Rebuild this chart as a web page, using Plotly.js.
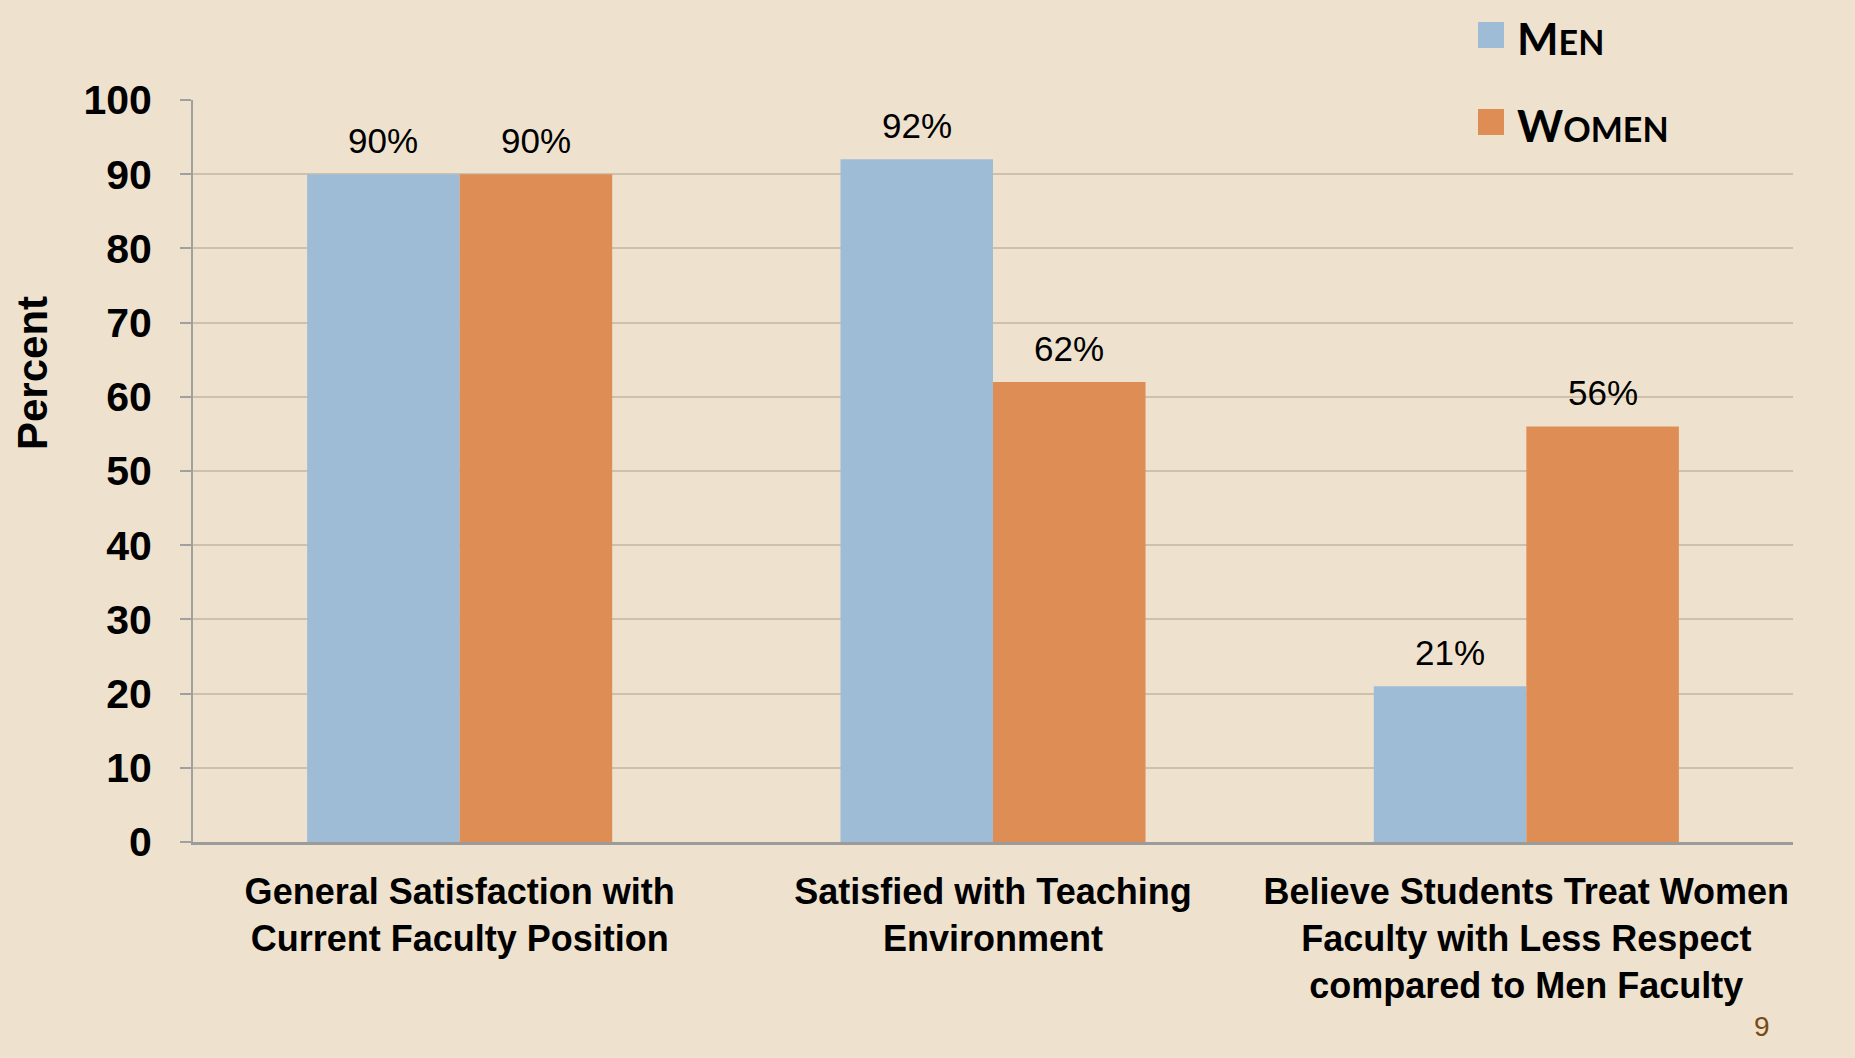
<!DOCTYPE html>
<html>
<head>
<meta charset="utf-8">
<script src="https://cdn.plot.ly/plotly-3.0.1.min.js"></script>
<style>
  html, body { margin: 0; padding: 0; background: #EEE2CE; }
  #chart { width: 1855px; height: 1058px; }
</style>
</head>
<body>
<div id="chart"></div>
<script>
// ---- data ----
const categories = [
  "General Satisfaction with<br>Current Faculty Position",
  "Satisfied with Teaching<br>Environment",
  "Believe Students Treat Women<br>Faculty with Less Respect<br>compared to Men Faculty"
];
const seriesNames = ["Men", "Women"];
const menValues = [90, 92, 21];
const womenValues = [90, 62, 56];
const yTickValues = [0, 10, 20, 30, 40, 50, 60, 70, 80, 90, 100];
const yAxisTitle = "Percent";
const pageNumber = "9";

// ---- styling ----
const W = 1855, H = 1058;
const margin = { l: 193, r: 62, t: 100, b: 216 };
const plotW = W - margin.l - margin.r;
const plotH = H - margin.t - margin.b;
const px2x = px => (px - margin.l) / plotW;
const px2y = py => (H - margin.b - py) / plotH;

const colors = ["#9FBCD6", "#DE8E54"];
const seriesValues = [menValues, womenValues];
const bargap = 0.428;
const barFrac = (1 - bargap) / 2;   // width of one bar in category units
const offsets = [-barFrac / 2, barFrac / 2];

const traces = seriesValues.map((vals, i) => ({
  type: "bar",
  name: seriesNames[i],
  x: categories,
  y: vals,
  marker: { color: colors[i], line: { width: 0 } },
  showlegend: false,
  hoverinfo: "x+y+name"
}));

const annotations = [];
// data labels
seriesValues.forEach((vals, s) => {
  vals.forEach((v, c) => {
    annotations.push({
      x: c + offsets[s], y: v, xref: "x", yref: "y",
      text: v + "%", showarrow: false,
      xanchor: "center", yanchor: "bottom", yshift: 12,
      font: { family: "Liberation Sans, Arial, sans-serif", size: 35, color: "#000" }
    });
  });
});
// y axis title
annotations.push({
  xref: "paper", yref: "paper", x: px2x(32), y: px2y(373),
  text: "<b>" + yAxisTitle + "</b>", textangle: -90, showarrow: false,
  xanchor: "center", yanchor: "middle",
  font: { family: "Liberation Sans, Arial, sans-serif", size: 42, color: "#000" }
});
// legend (small caps style)
const legendRows = [35, 122];
const shapes = [];
seriesNames.forEach((name, i) => {
  const cy = legendRows[i];
  shapes.push({
    type: "rect", xref: "paper", yref: "paper",
    x0: px2x(1478), x1: px2x(1504), y0: px2y(cy + 13), y1: px2y(cy - 13),
    fillcolor: colors[i], line: { width: 0 }
  });
  const label = name.charAt(0).toUpperCase() +
    '<span style="font-size:34px">' + name.slice(1).toUpperCase() + '</span>';
  annotations.push({
    xref: "paper", yref: "paper", x: px2x(1515), y: px2y(cy + 3),
    text: "<b>" + label + "</b>", showarrow: false,
    xanchor: "left", yanchor: "middle",
    font: { family: "Lato, Liberation Sans, sans-serif", size: 44, color: "#000" }
  });
});
// page number
annotations.push({
  xref: "paper", yref: "paper", x: px2x(1762), y: px2y(1026),
  text: pageNumber, showarrow: false, xanchor: "center", yanchor: "middle",
  font: { family: "Liberation Sans, sans-serif", size: 28, color: "#7A4A14" }
});

const layout = {
  width: W, height: H,
  margin: margin,
  paper_bgcolor: "#EEE2CE",
  plot_bgcolor: "#EEE2CE",
  barmode: "group",
  bargap: bargap,
  bargroupgap: 0,
  showlegend: false,
  xaxis: {
    type: "category",
    showgrid: false,
    showline: true, linecolor: "#9B9B9B", linewidth: 3,
    ticks: "",
    tickfont: { family: "Liberation Sans, Arial, sans-serif", size: 36, color: "#000", weight: "bold" },
    ticklabelstandoff: 16,
    fixedrange: true
  },
  yaxis: {
    range: [0, 100],
    tickvals: yTickValues,
    ticktext: yTickValues.map(String),
    showgrid: true, gridcolor: "#CDC1AE", gridwidth: 2,
    showline: true, linecolor: "#A0A0A0", linewidth: 2,
    ticks: "outside", ticklen: 11, tickwidth: 2, tickcolor: "#A0A0A0",
    zeroline: false,
    tickfont: { family: "Liberation Sans, Arial, sans-serif", size: 41, color: "#000", weight: "bold" },
    ticklabelstandoff: 20,
    fixedrange: true
  },
  shapes: shapes,
  annotations: annotations
};

Plotly.newPlot("chart", traces, layout, { displayModeBar: false, staticPlot: true });
</script>
</body>
</html>
